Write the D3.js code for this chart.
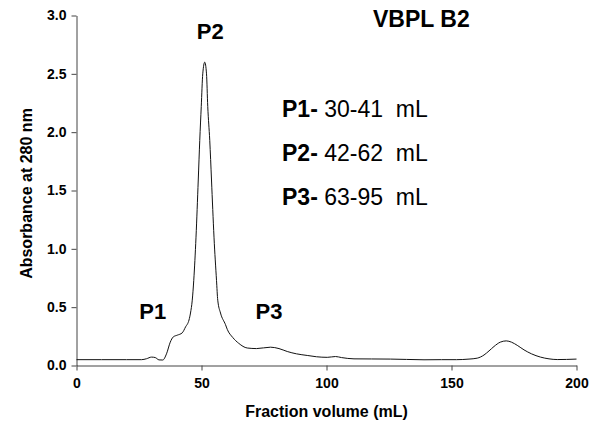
<!DOCTYPE html>
<html lang="en">
<head>
<meta charset="UTF-8">
<title>VBPL B2</title>
<script src="https://d3js.org/d3.v7.min.js"></script>
<style>
    body { margin: 0; background: #fff; }
    text { font-family: "Liberation Sans", Arial, sans-serif; fill: #000; }
</style>
</head>
<body>
<svg id="plot" width="603" height="430"></svg>
<script>
    // elution profile: fraction volume (mL) and absorbance at 280 nm
    const volume = [0, 10, 20, 26, 28, 30, 31.5, 33, 34.5, 36, 37.5, 38.7, 40.3, 42.3, 43.6, 45, 45.6, 46.3, 46.9, 47.8,
        48.7, 49.3, 49.9, 50.5, 51.3, 52, 52.5, 53.3, 54, 55, 56, 56.5, 57.6, 59.6, 60.3, 62.5, 64.9, 68.3, 72, 77.6,
        81, 84.3, 88, 92.3, 96, 100.3, 103.6, 106, 111, 118, 125.6, 132, 139, 146, 152, 157, 160.3, 163, 165, 167,
        169.5, 171.9, 174, 176.5, 179, 182, 185.6, 189, 192.3, 196, 200];
    const absorbance = [0.05, 0.05, 0.05, 0.05, 0.058, 0.072, 0.068, 0.048, 0.047, 0.1, 0.2, 0.245, 0.26, 0.28, 0.33, 0.39, 0.45, 0.56, 0.73, 1.1,
        1.59, 1.93, 2.22, 2.5, 2.6, 2.5, 2.22, 1.93, 1.59, 1.1, 0.73, 0.56, 0.45, 0.35, 0.31, 0.24, 0.19, 0.15, 0.145, 0.157,
        0.145, 0.12, 0.1, 0.086, 0.075, 0.07, 0.077, 0.068, 0.057, 0.056, 0.055, 0.052, 0.049, 0.05, 0.05, 0.055, 0.063, 0.09, 0.125, 0.163,
        0.2, 0.211, 0.2, 0.17, 0.134, 0.1, 0.072, 0.057, 0.051, 0.052, 0.055];

    const xTicks = [0, 50, 100, 150, 200];
    const yTicks = [0, 0.5, 1.0, 1.5, 2.0, 2.5, 3.0];

    // peak labels on the curve
    const peakNames = ["P1", "P2", "P3"];
    const peakPos = [[30.5, 0.40], [53.5, 2.8], [77, 0.40]];
    // fraction ranges listed at the right
    const peakRanges = ["30-41 mL", "42-62 mL", "63-95 mL"];
    const title = "VBPL B2";

    const svg = d3.select("#plot");

    const x = d3.scaleLinear().domain([0, 200]).range([76.5, 576.5]);
    const y = d3.scaleLinear().domain([0, 3]).range([365.5, 15.5]);

    // axes
    const xAxis = svg.append("g")
        .attr("transform", "translate(0," + y(0) + ")")
        .call(d3.axisBottom(x).tickValues(xTicks).tickSize(5).tickSizeOuter(0).tickPadding(5));
    const yAxis = svg.append("g")
        .attr("transform", "translate(" + x(0) + ",0)")
        .call(d3.axisLeft(y).tickValues(yTicks).tickFormat(d3.format(".1f")).tickSize(5).tickSizeOuter(0).tickPadding(5));

    [xAxis, yAxis].forEach(function (g) {
        g.select(".domain").attr("stroke", "#444");
        g.selectAll(".tick line").attr("stroke", "#444");
        g.selectAll(".tick text")
            .style("font-family", "'Liberation Sans', Arial, sans-serif")
            .style("font-size", "14px")
            .style("font-weight", "bold")
            .attr("fill", "#000");
    });
    xAxis.selectAll(".tick text").attr("dy", "0.9em");

    // axis titles
    svg.append("text")
        .attr("x", (x(0) + x(200)) / 2)
        .attr("y", 417)
        .attr("text-anchor", "middle")
        .style("font-size", "16px")
        .style("font-weight", "bold")
        .text("Fraction volume (mL)");

    svg.append("text")
        .attr("transform", "translate(32," + ((y(0) + y(3)) / 2 + 3) + ") rotate(-90)")
        .attr("text-anchor", "middle")
        .style("font-size", "16px")
        .style("font-weight", "bold")
        .text("Absorbance at 280 nm");

    // chromatogram
    const line = d3.line()
        .x(function (d, i) { return x(volume[i]); })
        .y(function (d) { return y(d); })
        .curve(d3.curveMonotoneX);

    svg.append("path")
        .attr("d", line(absorbance))
        .attr("fill", "none")
        .attr("stroke", "#111")
        .attr("stroke-width", 1);

    // peak labels
    svg.selectAll(".peak").data(peakNames).join("text")
        .attr("class", "peak")
        .attr("x", function (d, i) { return x(peakPos[i][0]); })
        .attr("y", function (d, i) { return y(peakPos[i][1]); })
        .attr("text-anchor", "middle")
        .style("font-size", "22px")
        .style("font-weight", "bold")
        .text(function (d) { return d; });

    svg.append("text")
        .attr("x", 373)
        .attr("y", 27)
        .style("font-size", "23px")
        .style("font-weight", "bold")
        .text(title);

    const legend = svg.selectAll(".range").data(peakRanges).join("text")
        .attr("class", "range")
        .attr("x", 282)
        .attr("y", function (d, i) { return 117 + i * 44; })
        .style("font-size", "23px");
    legend.append("tspan").style("font-weight", "bold").text(function (d, i) { return peakNames[i] + "- "; });
    legend.append("tspan").text(function (d) { return d.replace(" ", "\u00a0 "); });
</script>
</body>
</html>
